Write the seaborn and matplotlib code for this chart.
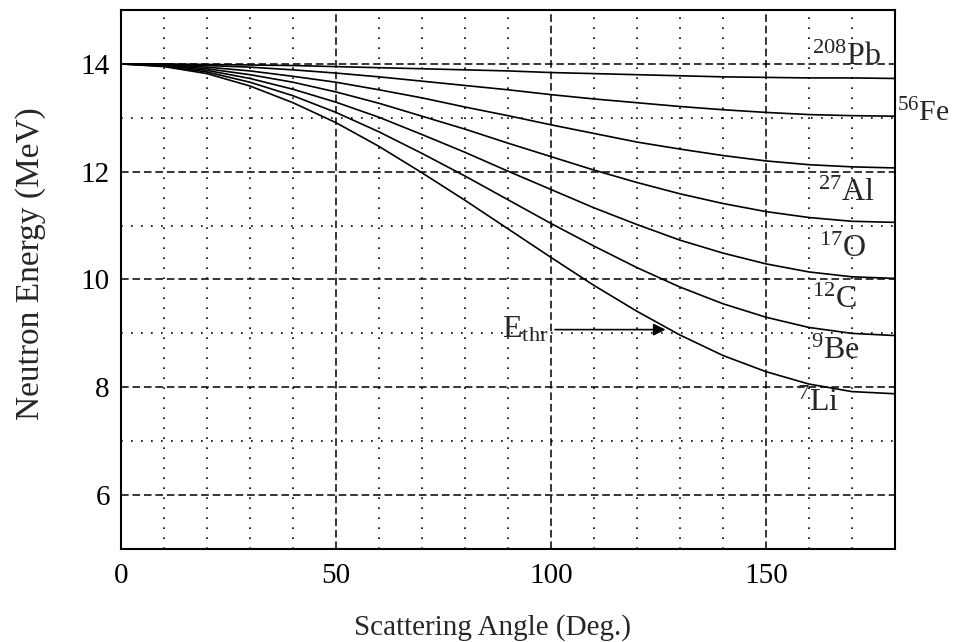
import numpy as np
import pandas as pd
import matplotlib
matplotlib.use('Agg')
import matplotlib.pyplot as plt
import seaborn as sns

# Energia do neutron espalhado (MeV), a cada 10 graus
angles = [0, 10, 20, 30, 40, 50, 60, 70, 80, 90, 100, 110, 120, 130, 140, 150, 160, 170, 180]

pb208 = [14.00, 14.00, 13.99, 13.98, 13.97, 13.95, 13.93, 13.91, 13.89, 13.87, 13.84, 13.82, 13.80, 13.78, 13.76, 13.75, 13.74, 13.74, 13.73]
fe56 = [14.00, 13.99, 13.97, 13.94, 13.89, 13.83, 13.76, 13.68, 13.60, 13.52, 13.43, 13.35, 13.28, 13.21, 13.15, 13.10, 13.06, 13.04, 13.03]
al27 = [14.00, 13.99, 13.94, 13.87, 13.77, 13.66, 13.52, 13.37, 13.20, 13.04, 12.87, 12.71, 12.55, 12.42, 12.30, 12.20, 12.13, 12.09, 12.07]
o17 = [14.00, 13.98, 13.91, 13.80, 13.66, 13.48, 13.27, 13.03, 12.79, 12.53, 12.28, 12.03, 11.80, 11.59, 11.41, 11.26, 11.15, 11.08, 11.06]
c12 = [14.00, 13.97, 13.88, 13.73, 13.53, 13.29, 13.01, 12.69, 12.36, 12.01, 11.67, 11.33, 11.02, 10.73, 10.49, 10.29, 10.14, 10.05, 10.02]
be9 = [14.00, 13.96, 13.85, 13.66, 13.41, 13.10, 12.74, 12.34, 11.92, 11.48, 11.04, 10.62, 10.22, 9.86, 9.55, 9.30, 9.11, 9.00, 8.96]
li7 = [14.00, 13.95, 13.82, 13.59, 13.28, 12.91, 12.47, 11.98, 11.47, 10.94, 10.41, 9.89, 9.41, 8.97, 8.59, 8.29, 8.06, 7.92, 7.88]

nuclides = ['Pb', 'Fe', 'Al', 'O', 'C', 'Be', 'Li']
mass_numbers = ['208', '56', '27', '17', '12', '9', '7']
series = [pb208, fe56, al27, o17, c12, be9, li7]

# energia limiar (seta)
e_thr = 9.07
thr_angle = 127.3

df = pd.concat([pd.DataFrame({'angle': angles, 'energy': s, 'nuclide': n})
                for s, n in zip(series, nuclides)])

sns.set_style('white')
plt.rcParams['font.family'] = ['Liberation Serif', 'DejaVu Serif']
plt.rcParams['mathtext.fontset'] = 'custom'
plt.rcParams['mathtext.rm'] = 'Liberation Serif'
plt.rcParams['mathtext.it'] = 'Liberation Serif:italic'

fig = plt.figure(figsize=(9.54, 6.42), dpi=100)
ax = fig.add_axes([0.1268, 0.1449, 0.8113, 0.8395])

sns.lineplot(data=df, x='angle', y='energy', hue='nuclide', palette=['black'] * 7,
             legend=False, ax=ax, linewidth=1.2, sort=False)

ax.set_xlim(0, 180)
ax.set_ylim(5, 15)
ax.set_xticks([0, 50, 100, 150])
ax.set_xticks([a for a in range(10, 180, 10) if a % 50 != 0], minor=True)
ax.set_yticks([6, 8, 10, 12, 14])
ax.set_yticks([7, 9, 11, 13], minor=True)
ax.grid(which='major', linestyle=(0, (5, 2.5)), color='black', linewidth=1.1)
ax.grid(which='minor', linestyle=(0, (1, 5)), color='black', linewidth=1.2)
ax.tick_params(which='both', length=0, labelsize=21, colors='black')
ax.tick_params(axis='x', pad=10)
ax.tick_params(axis='y', pad=8)

for sp in ax.spines.values():
    sp.set_color('black')
    sp.set_linewidth(1.5)

ax.set_xlabel('Scattering Angle (Deg.)', fontsize=21)
ax.set_ylabel('Neutron Energy (MeV)', fontsize=24)
ax.xaxis.set_label_coords(0.48, -0.12)
ax.yaxis.set_label_coords(-0.097, 0.529)

# rotulos dos nuclideos
label_pos = {'Pb': (160.8, 14.13), 'Fe': (180.5, 13.08), 'Al': (162.0, 11.6),
             'O': (162.3, 10.55), 'C': (160.8, 9.62), 'Be': (160.5, 8.66), 'Li': (157.3, 7.7)}
for n, m in zip(nuclides, mass_numbers):
    x, y = label_pos[n]
    fs = 21.5 if n == 'Fe' else 23
    ax.text(x, y, r'$^{%s}$%s' % (m, n), fontsize=fs, ha='left', va='center', clip_on=False)

ax.annotate('', xy=(thr_angle, e_thr), xytext=(100.3, e_thr),
            arrowprops=dict(arrowstyle='-|>', color='black', lw=1.2, mutation_scale=18))
ax.text(88.5, e_thr, r'$\mathrm{E}_{\mathrm{thr}}$', fontsize=23, ha='left', va='center')

plt.savefig('out.png', dpi=100)
